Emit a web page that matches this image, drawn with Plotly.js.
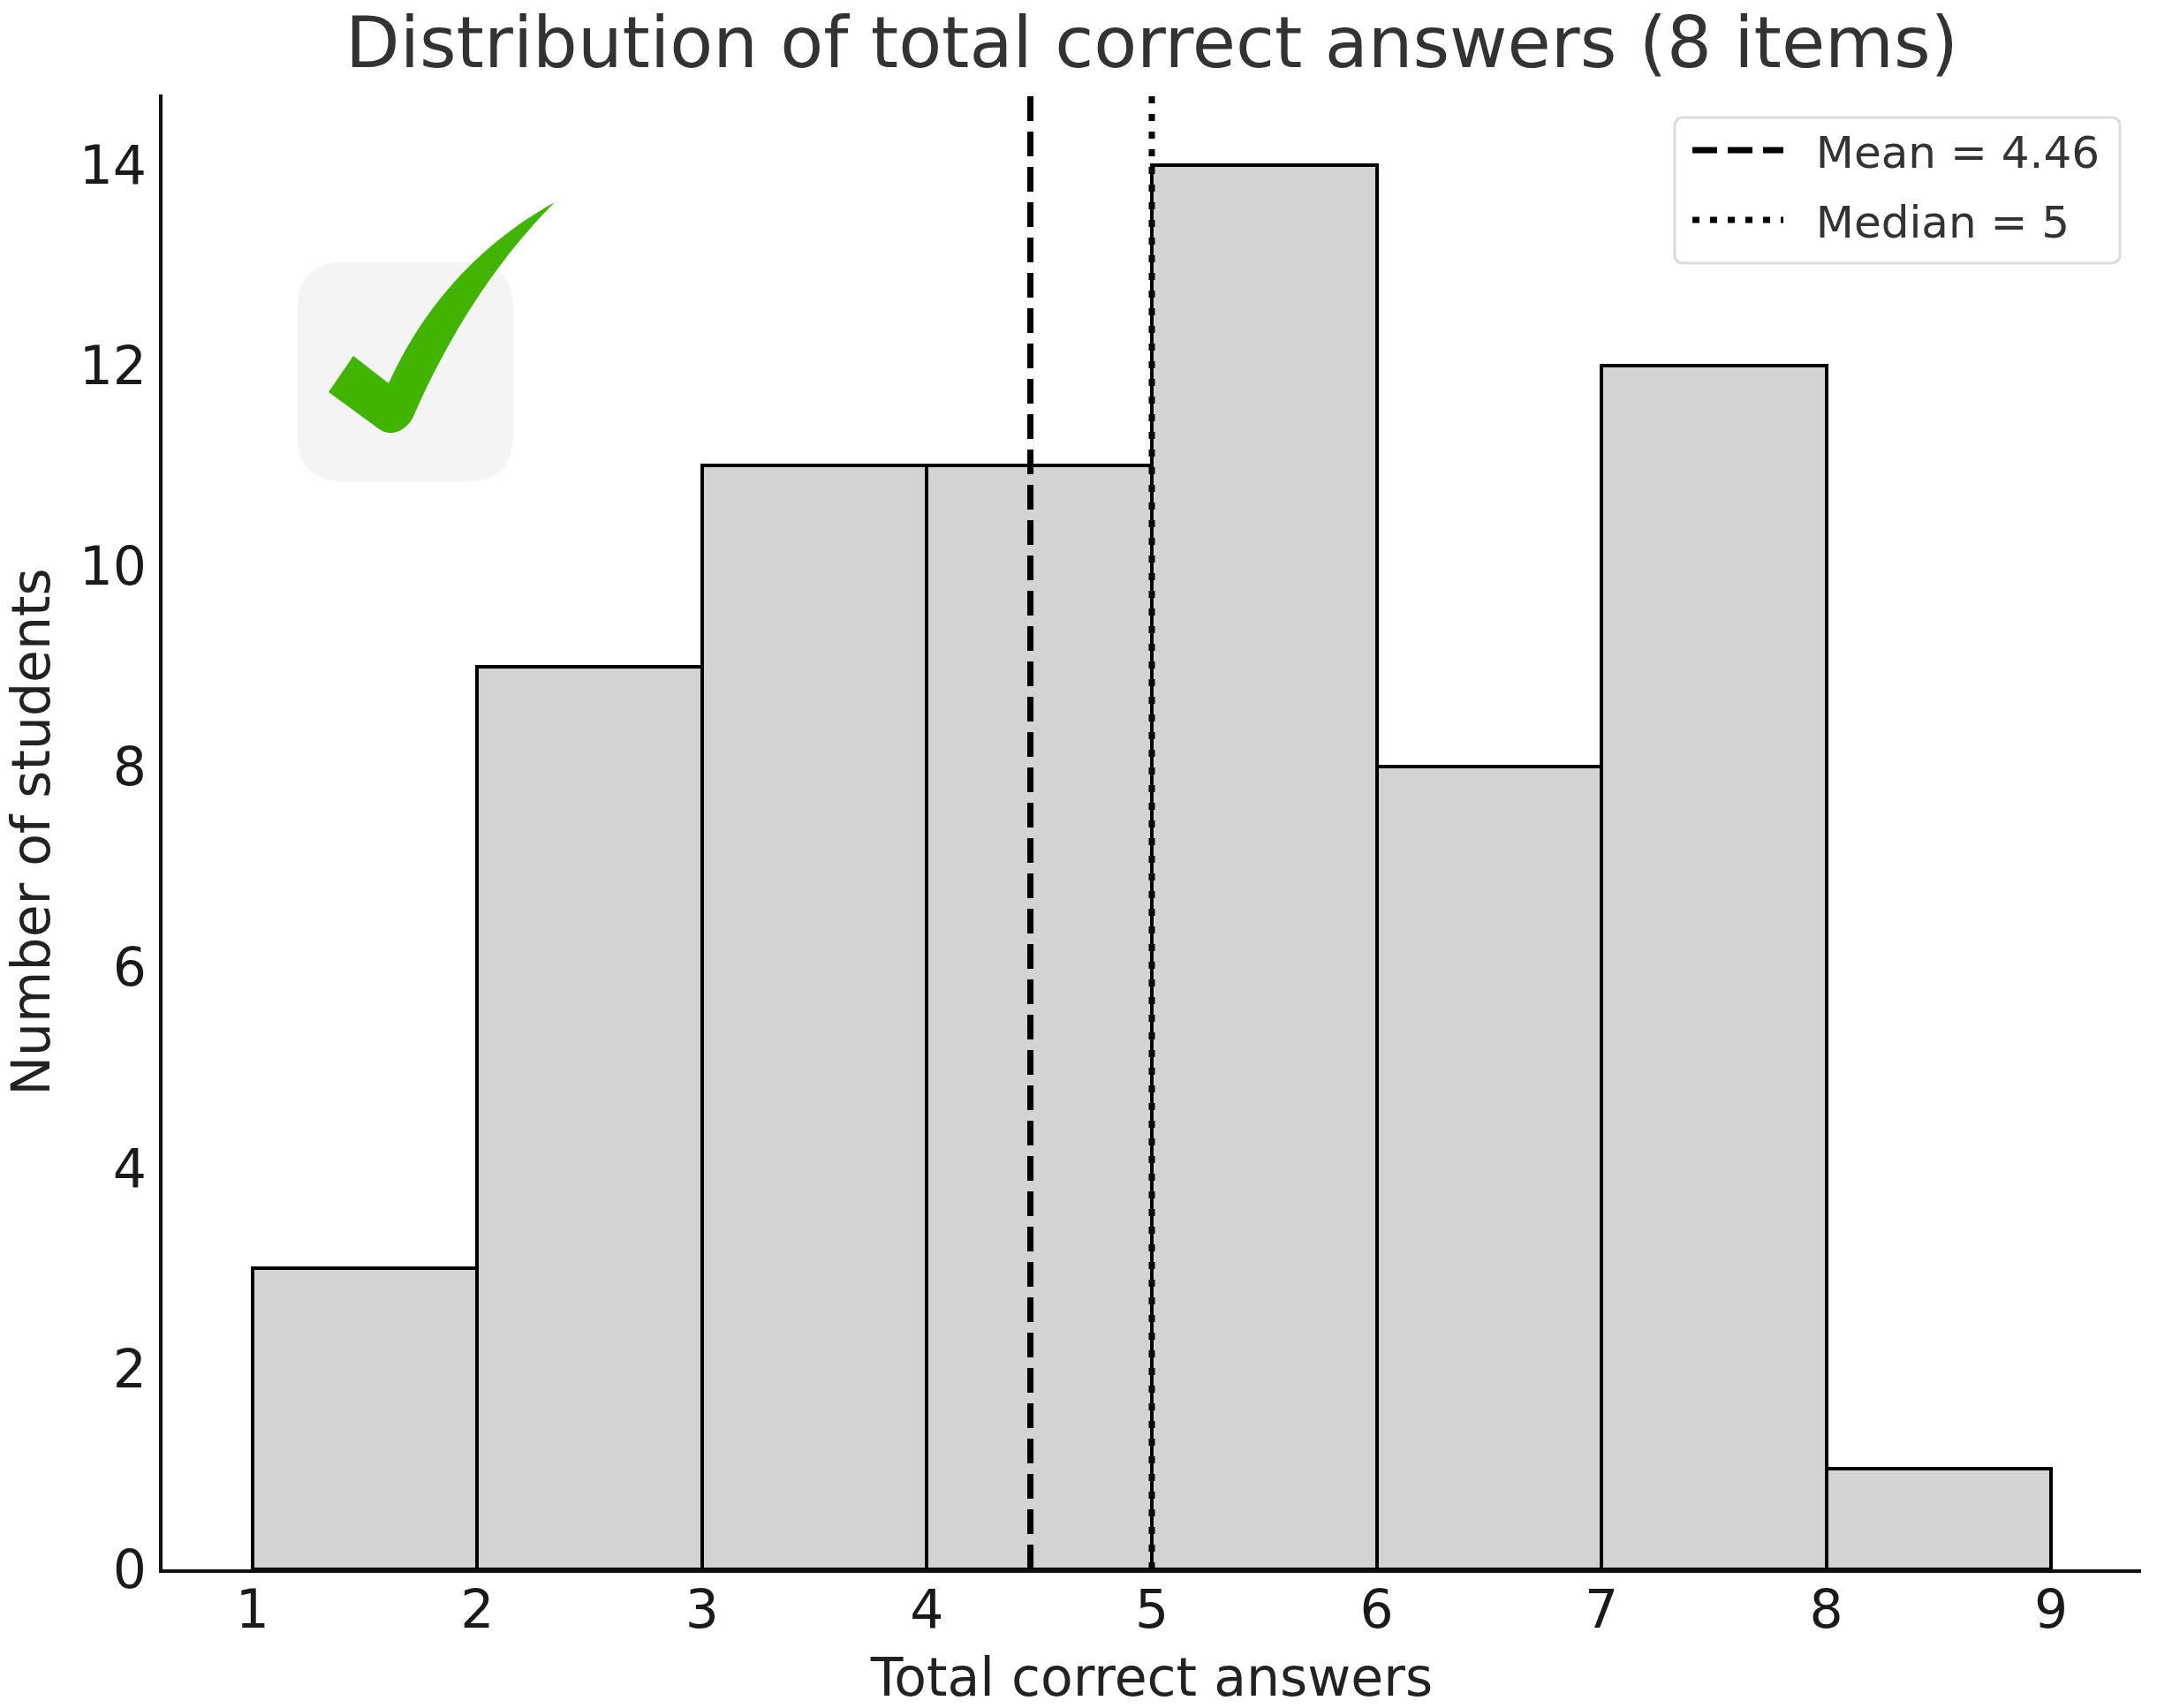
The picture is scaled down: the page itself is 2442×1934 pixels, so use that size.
<!DOCTYPE html>
<html>
<head>
<meta charset="utf-8">
<script src="https://cdn.plot.ly/plotly-3.0.1.min.js"></script>
<style>
  html, body { margin: 0; padding: 0; background: #fff; }
</style>
</head>
<body>
<div id="chart" style="width:2442px;height:1934px;"></div>
<script>
// histogram bins (left edge of each) and number of students
const binStarts = [1, 2, 3, 4, 5, 6, 7, 8];
const counts = [3, 9, 11, 11, 14, 8, 12, 1];
const binWidth = 1;

const meanValue = 4.46;
const medianValue = 5;
const lineSpan = [0, 14.7];

const xTicks = [1, 2, 3, 4, 5, 6, 7, 8, 9];
const yTicks = [0, 2, 4, 6, 8, 10, 12, 14];

const W = 2442, H = 1934;
const margin = { l: 184, r: 18, t: 107, b: 157 };

// the logo and the legend frame are placed in page pixels, paper is the plot area
const px = (x) => (x - margin.l) / (W - margin.l - margin.r);
const py = (y) => (H - margin.b - y) / (H - margin.t - margin.b);
const toPath = (cmds) => cmds.map((c) => {
  const pts = [];
  for (let i = 1; i < c.length; i += 2) pts.push(px(c[i]) + ',' + py(c[i + 1]));
  return c[0] + pts.join(' ');
}).join(' ') + ' Z';

const roundRect = (x0, y0, x1, y1, r) => toPath([
  ['M', x0 + r, y0], ['L', x1 - r, y0], ['Q', x1, y0, x1, y0 + r],
  ['L', x1, y1 - r], ['Q', x1, y1, x1 - r, y1],
  ['L', x0 + r, y1], ['Q', x0, y1, x0, y1 - r],
  ['L', x0, y0 + r], ['Q', x0, y0, x0 + r, y0]
]);

const checkMark = toPath([
  ['M', 372, 444], ['L', 400, 403], ['L', 440, 434],
  ['C', 480, 345, 545, 275, 628, 229],
  ['C', 567, 290, 513, 370, 470, 467],
  ['C', 463, 487, 443, 497, 428, 485],
  ['L', 372, 444]
]);

// legend has no setting for the gap between sample and label
const labelGap = '\u00A0\u00A0';

const bars = {
  type: 'bar',
  x: binStarts,
  y: counts,
  width: binWidth,
  offset: 0,
  marker: { color: '#d3d3d3', line: { color: '#000', width: 4 } },
  showlegend: false,
  hoverinfo: 'x+y'
};

const meanLine = {
  type: 'scatter',
  mode: 'lines',
  x: [meanValue, meanValue],
  y: lineSpan,
  name: labelGap + 'Mean = ' + meanValue,
  legendgroup: 'mean',
  line: { color: '#000', width: 7, dash: '28px,12px' }
};

const medianLine = {
  type: 'scatter',
  mode: 'lines',
  x: [medianValue, medianValue],
  y: lineSpan,
  name: labelGap + 'Median = ' + medianValue,
  legendgroup: 'median',
  line: { color: '#000', width: 7, dash: '8px,12px' }
};

const layout = {
  width: W,
  height: H,
  margin: margin,
  paper_bgcolor: '#fff',
  plot_bgcolor: 'rgba(0,0,0,0)',
  font: { family: '"DejaVu Sans", sans-serif', color: '#1a1a1a' },
  bargap: 0,
  title: {
    text: 'Distribution of total correct answers (8 items)',
    font: { size: 80, color: '#333' },
    x: 0.534,
    xanchor: 'center',
    y: 0.975,
    yanchor: 'middle'
  },
  xaxis: {
    range: [0.6, 9.4],
    tickvals: xTicks,
    ticks: '',
    ticklabelstandoff: -10,
    showgrid: false,
    zeroline: false,
    showline: true,
    linecolor: '#111',
    linewidth: 4,
    tickfont: { size: 60 },
    title: { text: 'Total correct answers', font: { size: 60, color: '#222' }, standoff: 49 }
  },
  yaxis: {
    range: [0, 14.7],
    tickvals: yTicks,
    ticks: '',
    ticklabelstandoff: 2,
    showgrid: false,
    zeroline: false,
    showline: true,
    linecolor: '#111',
    linewidth: 4,
    tickfont: { size: 60 },
    title: { text: 'Number of students', font: { size: 60, color: '#222' }, standoff: 26 }
  },
  legend: {
    x: px(1911),
    y: py(131),
    xanchor: 'left',
    yanchor: 'top',
    bgcolor: 'rgba(0,0,0,0)',
    borderwidth: 0,
    itemwidth: 103,
    tracegroupgap: 11,
    font: { size: 50, color: '#333' }
  },
  shapes: [
    { type: 'path', xref: 'paper', yref: 'paper', layer: 'below', path: roundRect(337, 297, 581, 545, 52),
      fillcolor: '#f4f4f4', line: { width: 0 } },
    { type: 'path', xref: 'paper', yref: 'paper', layer: 'above', path: checkMark,
      fillcolor: '#40b400', line: { width: 0 } },
    { type: 'path', xref: 'paper', yref: 'paper', layer: 'above', path: roundRect(1896, 133, 2400, 298, 10),
      fillcolor: 'rgba(255,255,255,0)', line: { color: '#dcdcdc', width: 3 } }
  ]
};

Plotly.newPlot('chart', [bars, meanLine, medianLine], layout, { displayModeBar: false });
</script>
</body>
</html>
